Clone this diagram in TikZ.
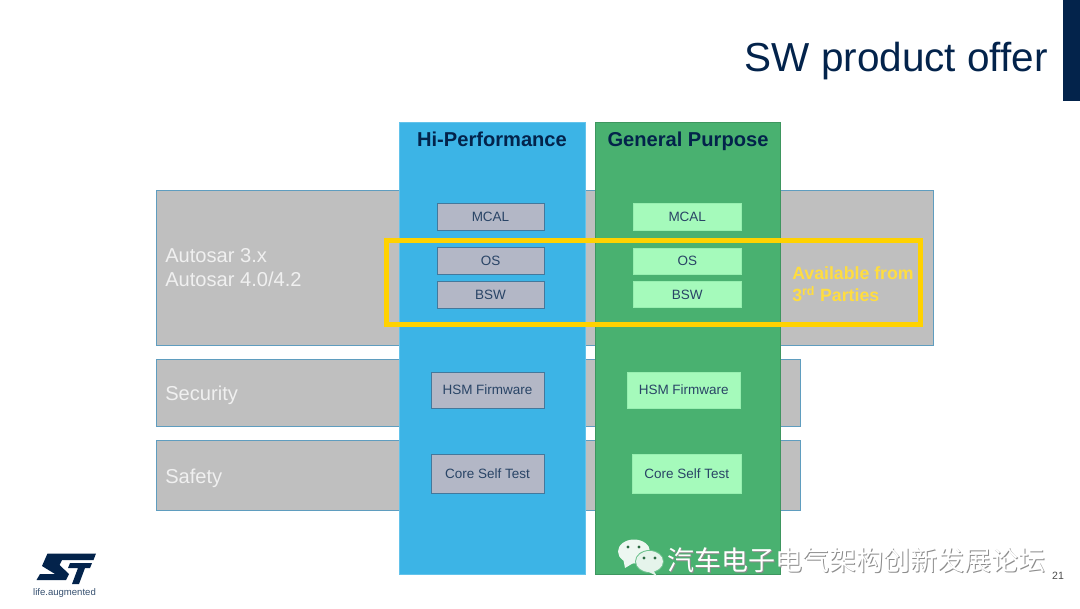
\documentclass[tikz,border=0pt]{standalone}
\usepackage{fontspec}
\setmainfont{Liberation Sans}
\newfontfamily\cjk{Noto Sans CJK SC}
\definecolor{stnavy}{HTML}{03234B}
\definecolor{stblue}{HTML}{3CB4E6}
\definecolor{stgreen}{HTML}{49B170}
\definecolor{bandgray}{HTML}{BFBFBF}
\definecolor{bandline}{HTML}{5F9DBF}
\definecolor{hifill}{HTML}{B3B7C6}
\definecolor{gpfill}{HTML}{A5FABB}
\definecolor{stgold}{HTML}{FFD200}
\tikzset{
    band/.style={fill=bandgray,draw=bandline,line width=0.6pt},
    hicol/.style={fill=stblue,draw=stblue!80!white,line width=0.6pt},
    gpcol/.style={fill=stgreen,draw=stgreen!85!black,line width=0.6pt},
    hibox/.style={fill=hifill,draw=bandline!70!stnavy,line width=0.7pt,text=stnavy!85!white,font=\fontsize{9.6}{11}\selectfont},
    gpbox/.style={fill=gpfill,draw=gpfill!85!stgreen,line width=0.5pt,text=stnavy!85!white,font=\fontsize{9.6}{11}\selectfont},
    coltitle/.style={text=stnavy,anchor=base,font=\fontsize{14.3}{17}\selectfont\bfseries,inner sep=0pt},
    bandtext/.style={text=white!94!black,anchor=west,inner sep=0pt,font=\fontsize{14.3}{17.2}\selectfont,align=left}
}
\begin{document}
\begin{tikzpicture}[x=0.025cm,y=-0.025cm]
    \useasboundingbox (0,0) rectangle (1080,608);
    % corner bar and title
    \fill[stnavy] (1063,0) rectangle (1080,101);
    \node (title) [anchor=base east,inner sep=0pt,text=stnavy,font=\fontsize{28.8}{34}\selectfont] at (1048,71) {SW product offer};
    % grey bands
    \draw[band] (156,190) rectangle (933,345);
    \draw[band] (156,359) rectangle (800,426);
    \draw[band] (156,440) rectangle (800,510);
    \node (autosar) [bandtext] at (165,267.5) {Autosar 3.x\\Autosar 4.0/4.2};
    \node (security) [bandtext] at (165,395) {Security};
    \node (safety) [bandtext] at (165,478) {Safety};
    % columns
    \draw[hicol] (399,122) rectangle (585.5,574);
    \draw[gpcol] (595,122) rectangle (780.5,574);
    \node (hititle) [coltitle] at (492,146) {Hi-Performance};
    \node (gptitle) [coltitle] at (688,146) {General Purpose};
    % boxes
    \draw[hibox] (437,203) rectangle node (himcal) {MCAL} (544,230);
    \draw[hibox] (437,247) rectangle node (hios) {OS} (544,274);
    \draw[hibox] (437,281) rectangle node (hibsw) {BSW} (544,308);
    \draw[hibox] (431,372) rectangle node (hihsm) {HSM Firmware} (544,408);
    \draw[hibox] (431,454) rectangle node (hicore) {Core Self Test} (544,493);
    \draw[gpbox] (633,203) rectangle node (gpmcal) {MCAL} (741.5,230);
    \draw[gpbox] (633,248) rectangle node (gpos) {OS} (741.5,274);
    \draw[gpbox] (633,281.5) rectangle node (gpbsw) {BSW} (741.5,307.5);
    \draw[gpbox] (627,372) rectangle node (gphsm) {HSM Firmware} (740.5,408);
    \draw[gpbox] (632,454) rectangle node (gpcore) {Core Self Test} (741.5,493);
    % third party frame
    \draw[stgold,line width=3.6pt] (386.5,240.5) rectangle (920.5,324.5);
    \node (parties) [anchor=west,inner sep=0pt,align=left,text=stgold!75!white,font=\fontsize{12.6}{15.5}\selectfont\bfseries] at (792,284.5) {Available from\\3\textsuperscript{rd} Parties};
    % logo
    \fill[stnavy] (47.5,553.5) -- (96,553.5) -- (93.5,560) -- (62,560) -- (59.5,565) -- (69,574) -- (66,580) -- (36.5,580) -- (40,574) -- (55,574) -- (42,566) -- cycle;
    \fill[stnavy] (70,563) -- (92,563) -- (90,568) -- (85,568) -- (79,584) -- (72,584) -- (78,568) -- (68,568) -- cycle;
    \node (tagline) [anchor=center,inner sep=0pt,text=stnavy!80!white,font=\fontsize{6.8}{8}\selectfont] at (64.5,593) {life.augmented};
    % page number
    \node (pagenum) [anchor=center,inner sep=0pt,text=black!70,font=\fontsize{7.5}{9}\selectfont] at (1058,576) {21};
    % watermark
    \fill[white!90!stgreen] (634,551.5) ellipse (16 and 12);
    \fill[white!90!stgreen] (623,558) -- (625,568) -- (635,562) -- cycle;
    \fill[stgreen!80!white] (649.5,561.5) ellipse (14.5 and 11.5);
    \fill[white!86!stgreen] (649.5,561.5) ellipse (13.5 and 10.5);
    \fill[white!86!stgreen] (653,570) -- (657,576) -- (647,571) -- cycle;
    \foreach \dotx/\doty in {628/547,639/547,644/558,655/558} {
        \fill[stgreen!60!black] (\dotx,\doty) circle (1.7);
    }
    \node (markshadow) [anchor=west,inner sep=0pt,text=black!45,font=\cjk\fontsize{19.2}{22}\selectfont] at (668,561) {汽车电子电气架构创新发展论坛};
    \node (markname) [anchor=west,inner sep=0pt,text=white,font=\cjk\fontsize{19.2}{22}\selectfont] at (667,560) {汽车电子电气架构创新发展论坛};
\end{tikzpicture}
\end{document}
